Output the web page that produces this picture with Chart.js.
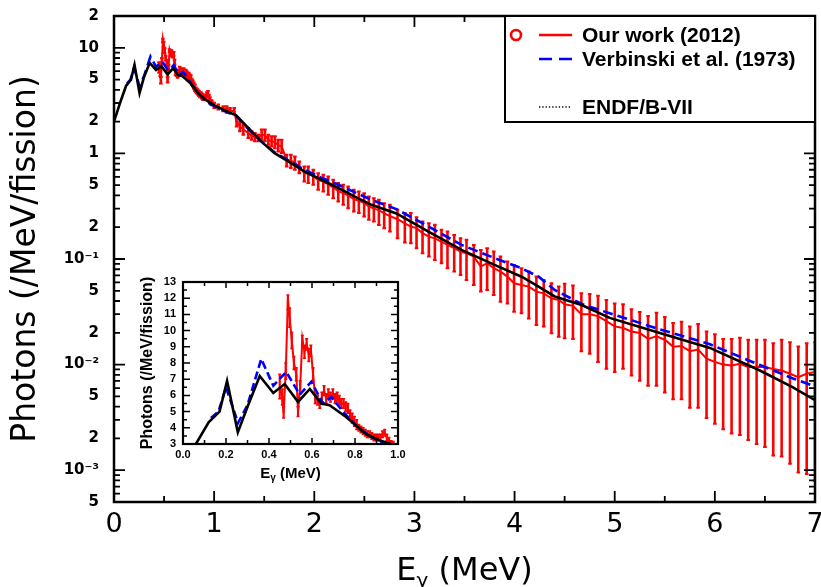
<!DOCTYPE html>
<html>
<head>
<meta charset="utf-8">
<script src="https://cdn.jsdelivr.net/npm/chart.js@4.4.1/dist/chart.umd.min.js"></script>
<style>
html,body{margin:0;padding:0;background:#ffffff;}
#wrap{position:relative;width:821px;height:587px;overflow:hidden;background:#fff;}
#main{position:absolute;left:0;top:0;}
#inset{position:absolute;left:130px;top:265px;}
</style>
</head>
<body>
<div id="wrap">
<canvas id="main" width="821" height="587"></canvas>
<canvas id="inset" width="284" height="220"></canvas>
</div>
<script>
// ---------------- DATA ----------------
const seriesLabels = ['Our work (2012)', 'Verbinski et al. (1973)', 'ENDF/B-VII'];
const yTitleText = 'Photons (/MeV/fission)';
const xTitleParts = ['E', 'γ', ' (MeV)'];

const xTickVals = [0, 1, 2, 3, 4, 5, 6, 7];
const xTickLabels = ['0', '1', '2', '3', '4', '5', '6', '7'];
const yTickVals = [5e-4, 1e-3, 2e-3, 5e-3, 1e-2, 2e-2, 5e-2, 0.1, 0.2, 0.5, 1, 2, 5, 10, 20];
const yTickLabels = ['5', '10⁻³', '2', '5', '10⁻²', '2', '5', '10⁻¹', '2', '5', '1', '2', '5', '10', '2'];

const insetXTickVals = [0, 0.2, 0.4, 0.6, 0.8, 1.0];
const insetXTickLabels = ['0.0', '0.2', '0.4', '0.6', '0.8', '1.0'];
const insetYTickVals = [3, 4, 5, 6, 7, 8, 9, 10, 11, 12, 13];
const insetYTickLabels = ['3', '4', '5', '6', '7', '8', '9', '10', '11', '12', '13'];

// ENDF/B-VII (black)
const endfE = [0.0, 0.06, 0.12, 0.17, 0.205, 0.255, 0.30, 0.357, 0.42, 0.473, 0.535, 0.59, 0.643, 0.682, 0.76, 0.853, 0.91, 1.0, 1.11, 1.22, 1.34, 1.47, 1.6, 1.74, 1.9, 2.07, 2.24, 2.4, 2.57, 2.82, 3.14, 3.47, 3.8, 4.07, 4.24, 4.4, 4.67, 4.95, 5.45, 5.95, 6.45, 6.78, 7.0];
const endfY = [2.0, 3.0, 4.35, 5.0, 6.9, 3.72, 5.3, 7.2, 6.15, 6.7, 5.6, 6.4, 5.5, 5.4, 4.65, 3.6, 3.25, 2.85, 2.54, 2.29, 1.74, 1.30, 1.01, 0.84, 0.675, 0.563, 0.47, 0.391, 0.326, 0.27, 0.182, 0.122, 0.088, 0.068, 0.0548, 0.0442, 0.0367, 0.0277, 0.0199, 0.0144, 0.0088, 0.0061, 0.0046];

// Verbinski et al. (blue dashed)
const verbE = [0.13, 0.165, 0.2, 0.256, 0.3, 0.364, 0.42, 0.48, 0.543, 0.597, 0.651, 0.69, 0.744, 0.806, 0.868, 0.93, 1.0, 1.11, 1.22, 1.34, 1.47, 1.6, 1.74, 1.9, 2.07, 2.24, 2.4, 2.57, 2.82, 3.14, 3.47, 3.8, 4.07, 4.24, 4.4, 4.67, 4.95, 5.45, 5.95, 6.45, 6.78, 7.0];
const verbY = [4.6, 5.0, 6.5, 4.3, 5.4, 8.25, 6.6, 7.45, 6.05, 6.85, 5.5, 5.9, 5.0, 4.1, 3.5, 3.05, 2.8, 2.5, 2.25, 1.72, 1.30, 1.03, 0.86, 0.70, 0.59, 0.505, 0.43, 0.364, 0.297, 0.203, 0.136, 0.102, 0.0817, 0.068, 0.051, 0.0375, 0.0306, 0.0216, 0.0156, 0.0099, 0.0074, 0.0062];

// Our work (red) : energy, value, lower and upper ends of the error bar
const ourE = [
  0.450, 0.462, 0.468, 0.478, 0.488, 0.496, 0.506, 0.516, 0.527, 0.535, 0.545, 0.555, 0.565, 0.575, 0.585, 0.595, 0.605, 0.615, 0.626, 0.636,
  0.646, 0.656, 0.666, 0.676, 0.686, 0.697, 0.707, 0.717, 0.727, 0.737, 0.747, 0.757, 0.767, 0.777, 0.787, 0.797, 0.808, 0.818, 0.828, 0.838,
  0.848, 0.858, 0.868, 0.878, 0.888, 0.898, 0.908, 0.918, 0.928, 0.938, 0.948, 0.958, 0.968, 0.978,
  1.001, 1.041, 1.091, 1.125, 1.158, 1.201, 1.224, 1.257, 1.291, 1.341, 1.374, 1.407, 1.441, 1.474, 1.507, 1.541, 1.574, 1.607, 1.640, 1.674,
  1.724, 1.766, 1.806, 1.850, 1.900, 1.940, 1.990, 2.039, 2.090, 2.139, 2.189, 2.239, 2.289, 2.338, 2.395, 2.445, 2.498, 2.545, 2.595, 2.645,
  2.698, 2.755,
  2.831, 2.904, 2.964, 3.021, 3.081, 3.144, 3.204, 3.270, 3.330, 3.397, 3.460, 3.520, 3.593, 3.663, 3.726, 3.792, 3.859, 3.929, 3.995, 4.069,
  4.142, 4.218, 4.291, 4.368, 4.441,
  4.500, 4.583, 4.667, 4.750, 4.833, 4.917, 5.000, 5.083, 5.167, 5.250, 5.333, 5.417, 5.500, 5.583, 5.667, 5.750, 5.833, 5.917, 6.000, 6.083,
  6.167, 6.250, 6.333, 6.417, 6.500, 6.583, 6.667, 6.750, 6.833, 6.917, 7.000
];
const ourY = [
  6.5, 5.9, 4.9, 7.5, 12.0, 10.8, 9.4, 8.0, 7.3, 5.0, 6.5, 9.5, 8.7, 9.2, 8.5, 8.8, 7.3, 5.8, 5.7, 5.5,
  5.9, 6.3, 5.8, 6.1, 5.9, 6.1, 5.8, 5.9, 5.7, 5.5, 5.5, 5.3, 5.2, 4.8, 4.6, 4.4, 4.2, 4.0, 3.9, 3.8,
  3.7, 3.6, 3.6, 3.5, 3.4, 3.4, 3.4, 3.4, 3.6, 3.7, 3.4, 3.2, 3.05, 3.0,
  2.85, 2.75, 2.65, 2.60, 2.55, 2.50, 1.98, 1.80, 1.68, 1.56, 1.48, 1.42, 1.40, 1.50, 1.48, 1.35, 1.30, 1.28, 1.19, 1.17,
  0.86, 0.85, 0.82, 0.745, 0.65, 0.64, 0.61, 0.56, 0.54, 0.51, 0.475, 0.44, 0.42, 0.40, 0.37, 0.355, 0.34, 0.315, 0.30, 0.29,
  0.27, 0.255,
  0.238, 0.218, 0.203, 0.196, 0.176, 0.163, 0.157, 0.146, 0.136, 0.1265, 0.1175, 0.1135, 0.1054, 0.0848, 0.0912, 0.0817, 0.076, 0.0681, 0.0589, 0.0568,
  0.0548, 0.0491, 0.0473, 0.0424, 0.0409,
  0.0373, 0.0360, 0.0299, 0.0299, 0.0288, 0.0258, 0.0230, 0.0222, 0.0206, 0.0199, 0.0175, 0.0185, 0.0172, 0.0148, 0.0150, 0.0134, 0.0139, 0.0114, 0.0106, 0.0100,
  0.0098, 0.0102, 0.0095, 0.0095, 0.0095, 0.0091, 0.0088, 0.0082, 0.0076, 0.0082, 0.0085
];
const ourLo = [
  5.8, 5.4, 4.6, 7.0, 11.3, 10.2, 8.9, 7.6, 6.9, 4.7, 6.1, 9.1, 8.3, 8.8, 8.1, 8.4, 6.9, 5.5, 5.4, 5.2,
  5.6, 6.0, 5.5, 5.8, 5.6, 5.8, 5.5, 5.6, 5.4, 5.2, 5.2, 5.0, 4.9, 4.5, 4.3, 4.1, 3.9, 3.8, 3.7, 3.6,
  3.5, 3.4, 3.4, 3.3, 3.2, 3.2, 3.2, 3.2, 3.4, 3.5, 3.2, 3.0, 2.9, 2.85,
  2.69, 2.60, 2.51, 2.42, 2.42, 2.33, 1.80, 1.62, 1.50, 1.40, 1.35, 1.30, 1.30, 1.35, 1.30, 1.21, 1.16, 1.12, 1.045, 1.007,
  0.752, 0.726, 0.700, 0.650, 0.542, 0.523, 0.504, 0.452, 0.436, 0.405, 0.377, 0.351, 0.326, 0.303, 0.282, 0.272, 0.252, 0.235, 0.226, 0.210,
  0.196, 0.182,
  0.157, 0.143, 0.141, 0.1265, 0.1135, 0.1054, 0.098, 0.0912, 0.0817, 0.076, 0.0706, 0.0633, 0.0568, 0.0491, 0.0509, 0.0456, 0.0394, 0.038, 0.0317, 0.0306,
  0.0274, 0.0237, 0.0229, 0.0198, 0.0184,
  0.0178, 0.0175, 0.0134, 0.0127, 0.0106, 0.00914, 0.0085, 0.00914, 0.00788, 0.00705, 0.00631, 0.00631, 0.00543, 0.00469, 0.00469, 0.0039, 0.0039, 0.00312, 0.00275, 0.00244,
  0.00223, 0.00216, 0.00193, 0.00177, 0.00166, 0.00138, 0.00135, 0.00115, 0.00095, 0.00092, 0.00079
];
const ourHi = [
  7.3, 6.4, 5.3, 8.0, 12.2, 11.4, 9.9, 8.4, 7.7, 5.3, 6.9, 9.7, 9.1, 9.5, 8.9, 9.1, 7.7, 6.1, 6.0, 5.8,
  6.2, 6.6, 6.1, 6.4, 6.2, 6.4, 6.1, 6.2, 6.0, 5.8, 5.8, 5.6, 5.5, 5.1, 4.9, 4.7, 4.5, 4.2, 4.1, 4.0,
  3.9, 3.8, 3.8, 3.7, 3.6, 3.6, 3.6, 3.6, 3.8, 3.9, 3.6, 3.4, 3.2, 3.15,
  3.01, 2.90, 2.79, 2.79, 2.69, 2.69, 2.17, 2.01, 1.87, 1.74, 1.62, 1.56, 1.50, 1.68, 1.68, 1.50, 1.45, 1.45, 1.35, 1.35,
  0.971, 0.971, 0.936, 0.840, 0.752, 0.752, 0.700, 0.650, 0.628, 0.605, 0.562, 0.523, 0.504, 0.486, 0.452, 0.436, 0.420, 0.391, 0.377, 0.364,
  0.338, 0.326,
  0.292, 0.272, 0.272, 0.249, 0.226, 0.218, 0.211, 0.189, 0.182, 0.169, 0.157, 0.152, 0.136, 0.122, 0.1265, 0.1175, 0.1054, 0.0946, 0.0879, 0.0817,
  0.076, 0.0681, 0.0633, 0.0589, 0.0548,
  0.0582, 0.0561, 0.0473, 0.0466, 0.0449, 0.0408, 0.0379, 0.0373, 0.0334, 0.0315, 0.0288, 0.0310, 0.0282, 0.0248, 0.0254, 0.0230, 0.0243, 0.0206, 0.0194, 0.0175,
  0.0175, 0.0180, 0.0172, 0.0172, 0.0172, 0.0159, 0.0172, 0.0163, 0.0148, 0.0159, 0.0163
];

// ---------------- HELPERS / PLUGINS ----------------
const FONT_DV = "'DejaVu Sans', sans-serif";
const FONT_LIB = "'Liberation Sans', Arial, sans-serif";
function pts(xs, ys) { return xs.map((x, i) => ({ x: x, y: ys[i] })); }

function makeDatasets(w) {
  return [
    { label: seriesLabels[2], data: pts(endfE, endfY), borderColor: '#000000', borderWidth: w.black,
      pointRadius: 0, showLine: true, fill: false, tension: 0, order: 0, clip: 0 },
    { label: seriesLabels[1], data: pts(verbE, verbY), borderColor: '#0000ff', borderWidth: w.blue,
      borderDash: w.dash, pointRadius: 0, showLine: true, fill: false, tension: 0, order: 1, clip: 0 },
    { label: seriesLabels[0], data: pts(ourE, ourY), borderColor: '#ff0000', borderWidth: w.red,
      pointRadius: 0, showLine: true, fill: false, tension: 0, order: 2, clip: 0 }
  ];
}

const errorBars = {
  id: 'errorBars',
  beforeDatasetsDraw(chart, args, o) {
    const { ctx, chartArea: a } = chart;
    const xs = chart.scales.x, ys = chart.scales.y;
    ctx.save();
    ctx.beginPath(); ctx.rect(a.left, a.top, a.right - a.left, a.bottom - a.top); ctx.clip();
    ctx.strokeStyle = '#ff0000';
    ourE.forEach((e, i) => {
      if (e < xs.min - 0.05 || e > xs.max + 0.05) return;
      const px = xs.getPixelForValue(e);
      const p1 = ys.getPixelForValue(ourLo[i]);
      const p2 = ys.getPixelForValue(ourHi[i]);
      ctx.lineWidth = o.width;
      ctx.beginPath(); ctx.moveTo(px, p1); ctx.lineTo(px, p2); ctx.stroke();
      ctx.lineWidth = o.capW;
      ctx.beginPath();
      ctx.moveTo(px - o.cap, p1); ctx.lineTo(px + o.cap, p1);
      ctx.moveTo(px - o.cap, p2); ctx.lineTo(px + o.cap, p2);
      ctx.stroke();
    });
    ctx.restore();
  }
};

const frameTicks = {
  id: 'frameTicks',
  afterDatasetsDraw(chart, args, o) {
    const { ctx, chartArea: a } = chart;
    const xs = chart.scales.x, ys = chart.scales.y;
    ctx.save();
    ctx.strokeStyle = '#000';
    ctx.lineWidth = o.tw;
    ctx.beginPath();
    const xt = (v, len) => { const p = xs.getPixelForValue(v);
      ctx.moveTo(p, a.bottom); ctx.lineTo(p, a.bottom - len);
      ctx.moveTo(p, a.top); ctx.lineTo(p, a.top + len); };
    const yt = (v, len) => { const p = ys.getPixelForValue(v);
      ctx.moveTo(a.left, p); ctx.lineTo(a.left + len, p);
      ctx.moveTo(a.right, p); ctx.lineTo(a.right - len, p); };
    o.xMajor.forEach(v => xt(v, o.xMajLen));
    o.xMinor.forEach(v => xt(v, o.xMinLen));
    o.yMajor.forEach(v => yt(v, o.yMajLen));
    o.yMinor.forEach(v => yt(v, o.yMinLen));
    ctx.stroke();
    ctx.lineWidth = o.lw;
    ctx.strokeRect(a.left, a.top, a.right - a.left, a.bottom - a.top);
    ctx.restore();
  }
};

const xTitle = {
  id: 'xTitle',
  afterDraw(chart, args, o) {
    const { ctx, chartArea: a } = chart;
    ctx.save();
    ctx.fillStyle = '#000'; ctx.textBaseline = 'alphabetic'; ctx.textAlign = 'left';
    const big = o.weight + ' ' + o.size + 'px ' + o.family;
    const small = o.weight + ' ' + o.subSize + 'px ' + o.family;
    ctx.font = big; const w0 = ctx.measureText(xTitleParts[0]).width; const w2 = ctx.measureText(xTitleParts[2]).width;
    ctx.font = small; const w1 = ctx.measureText(xTitleParts[1]).width;
    let x = (a.left + a.right) / 2 - (w0 + w1 + w2) / 2;
    ctx.font = big; ctx.fillText(xTitleParts[0], x, o.baseline); x += w0;
    ctx.font = small; ctx.fillText(xTitleParts[1], x, o.baseline + o.subShift); x += w1;
    ctx.font = big; ctx.fillText(xTitleParts[2], x, o.baseline);
    ctx.restore();
  }
};

const legendBox = {
  id: 'legendBox',
  afterDraw(chart, args, o) {
    if (!o.show) return;
    const { ctx, chartArea: a } = chart;
    const L = a.right - o.w, T = a.top;
    ctx.save();
    ctx.fillStyle = '#fff'; ctx.fillRect(L, T, o.w, o.h);
    ctx.lineWidth = 2; ctx.strokeStyle = '#000'; ctx.strokeRect(L, T, o.w, o.h);
    const x1 = L + 34, x2 = L + 67, tx = L + 77;
    const rows = [T + 19, T + 43, T + 91];
    ctx.strokeStyle = '#ff0000'; ctx.lineWidth = 2.6;
    ctx.beginPath(); ctx.arc(L + 11, rows[0], 5, 0, Math.PI * 2); ctx.stroke();
    ctx.beginPath(); ctx.moveTo(x1, rows[0]); ctx.lineTo(x2, rows[0]); ctx.stroke();
    ctx.strokeStyle = '#0000ff'; ctx.setLineDash([13, 7]);
    ctx.beginPath(); ctx.moveTo(x1, rows[1]); ctx.lineTo(x2, rows[1]); ctx.stroke();
    ctx.strokeStyle = '#000'; ctx.lineWidth = 1.3; ctx.setLineDash([1.3, 2]);
    ctx.beginPath(); ctx.moveTo(x1, rows[2]); ctx.lineTo(x2, rows[2]); ctx.stroke();
    ctx.setLineDash([]);
    ctx.fillStyle = '#000'; ctx.font = 'bold 21px ' + FONT_LIB; ctx.textBaseline = 'middle'; ctx.textAlign = 'left';
    seriesLabels.forEach((t, i) => ctx.fillText(t, tx, rows[i] + 1));
    ctx.restore();
  }
};

// minor tick positions of the log axis
const mainYMajor = [1e-3, 1e-2, 1e-1, 1, 10];
const mainYMinor = [];
for (let n = -4; n <= 1; n++) for (let k = 2; k <= 9; k++) {
  const v = k * Math.pow(10, n);
  if (v >= 4.99e-4 && v <= 20.01) mainYMinor.push(v);
}

const noPadX = s => { s.paddingLeft = 0; s.paddingRight = 0; };
const noPadY = s => { s.paddingTop = 0; s.paddingBottom = 0; };

// ---------------- MAIN CHART ----------------
new Chart(document.getElementById('main'), {
  type: 'scatter',
  data: { datasets: makeDatasets({ black: 2.6, blue: 2.6, red: 2.0, dash: [10, 5] }) },
  plugins: [errorBars, frameTicks, xTitle, legendBox],
  options: {
    responsive: false, animation: false, devicePixelRatio: 1,
    layout: { padding: { left: 0, top: 16, right: 6, bottom: 0 } },
    plugins: {
      legend: { display: false }, tooltip: { enabled: false },
      errorBars: { width: 2.6, capW: 2, cap: 1.8 },
      frameTicks: { lw: 2.5, tw: 1.8, xMajor: xTickVals, xMinor: [0.5, 1.5, 2.5, 3.5, 4.5, 5.5, 6.5],
        xMajLen: 11, xMinLen: 6, yMajor: mainYMajor, yMinor: mainYMinor, yMajLen: 11, yMinLen: 6 },
      xTitle: { family: FONT_DV, weight: 'normal', size: 32, subSize: 20, subShift: 7, baseline: 580 },
      legendBox: { show: true, w: 310, h: 106 }
    },
    scales: {
      x: {
        type: 'linear', min: 0, max: 7,
        grid: { display: false, drawTicks: false }, border: { display: false },
        afterBuildTicks: s => { s.ticks = xTickVals.map(v => ({ value: v })); },
        afterFit: s => { s.height = 85; noPadX(s); },
        ticks: { autoSkip: false, maxRotation: 0, padding: 7, color: '#000',
          font: { family: FONT_DV, size: 27 }, callback: (v, i) => xTickLabels[i] }
      },
      y: {
        type: 'logarithmic', min: 5e-4, max: 20,
        grid: { display: false, drawTicks: false }, border: { display: false },
        afterBuildTicks: s => { s.ticks = yTickVals.map(v => ({ value: v })); },
        afterFit: s => { s.width = 114; noPadY(s); },
        title: { display: true, text: yTitleText, color: '#000', font: { family: FONT_DV, size: 33 }, padding: { top: 7, bottom: 0 } },
        ticks: { autoSkip: false, padding: 15, color: '#000',
          font: { family: FONT_DV, size: 15, weight: 'bold' }, callback: (v, i) => yTickLabels[i] }
      }
    }
  }
});

// ---------------- INSET CHART ----------------
new Chart(document.getElementById('inset'), {
  type: 'scatter',
  data: { datasets: makeDatasets({ black: 2.6, blue: 2.6, red: 2.0, dash: [8, 4] }) },
  plugins: [errorBars, frameTicks, xTitle],
  options: {
    responsive: false, animation: false, devicePixelRatio: 1,
    layout: { padding: { left: 0, top: 17, right: 16, bottom: 0 } },
    plugins: {
      legend: { display: false }, tooltip: { enabled: false },
      errorBars: { width: 2.2, capW: 1.5, cap: 1.5 },
      frameTicks: { lw: 2.2, tw: 1.5, xMajor: insetXTickVals, xMinor: [0.1, 0.3, 0.5, 0.7, 0.9],
        xMajLen: 6, xMinLen: 4, yMajor: insetYTickVals, yMinor: [3.5, 4.5, 5.5, 6.5, 7.5, 8.5, 9.5, 10.5, 11.5, 12.5],
        yMajLen: 7, yMinLen: 4 },
      xTitle: { family: FONT_LIB, weight: 'bold', size: 15, subSize: 10, subShift: 3, baseline: 213 }
    },
    scales: {
      x: {
        type: 'linear', min: 0, max: 1,
        grid: { display: false, drawTicks: false }, border: { display: false },
        afterBuildTicks: s => { s.ticks = insetXTickVals.map(v => ({ value: v })); },
        afterFit: s => { s.height = 41; noPadX(s); },
        ticks: { autoSkip: false, maxRotation: 0, padding: 4, color: '#000',
          font: { family: FONT_LIB, size: 11, weight: 'bold' }, callback: (v, i) => insetXTickLabels[i] }
      },
      y: {
        type: 'linear', min: 3, max: 13,
        grid: { display: false, drawTicks: false }, border: { display: false },
        afterBuildTicks: s => { s.ticks = insetYTickVals.map(v => ({ value: v })); },
        afterFit: s => { s.width = 53; noPadY(s); },
        title: { display: true, text: yTitleText, color: '#000', font: { family: FONT_LIB, size: 16, weight: 'bold' }, padding: { top: 8, bottom: 0 } },
        ticks: { autoSkip: false, padding: 7, color: '#000',
          font: { family: FONT_LIB, size: 11, weight: 'bold' }, callback: (v, i) => insetYTickLabels[i] }
      }
    }
  }
});
</script>
</body>
</html>
